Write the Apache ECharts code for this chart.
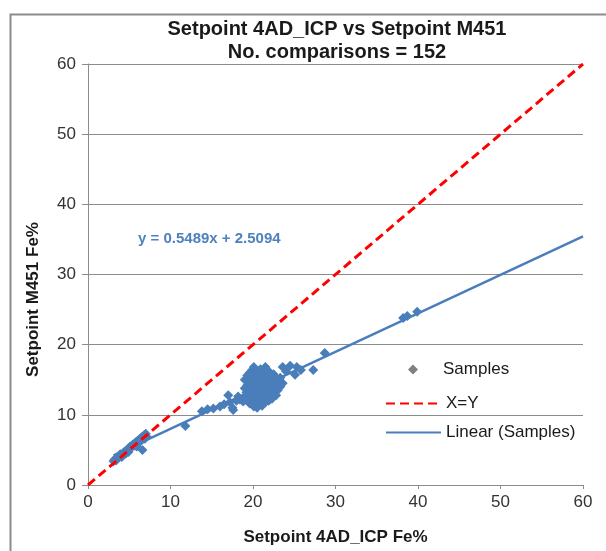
<html xmlns="http://www.w3.org/1999/xhtml">
<head>
  <meta charset="utf-8" />
  <title>Setpoint 4AD_ICP vs Setpoint M451</title>
  <script type="text/javascript" src="https://cdn.jsdelivr.net/npm/echarts@6/dist/echarts.min.js"></script>
</head>
<body style="margin: 0; background: #ffffff">
  <div id="chart" style="width: 606px; height: 551px"></div>
<script type="text/javascript">
  // samples: [4AD_ICP Fe%, M451 Fe%]
  var samples = [
    [3.1,3.4],[3.3,3.7],[3.4,3.5],[3.6,3.9],[3.8,4.1],[4.0,4.3],[4.1,4.0],[4.3,4.6],[4.5,4.8],[4.6,4.5],
    [4.8,5.0],[5.0,5.2],[5.1,5.5],[5.3,5.4],[5.5,5.8],[5.6,5.6],[5.8,6.1],[6.0,6.3],[6.1,6.0],[6.3,6.6],
    [6.5,6.8],[6.6,6.5],[6.8,7.1],[7.0,7.3],[7.1,6.9],[6.6,5.0],[5.9,5.5],[4.9,4.7],[3.9,4.4],[6.9,6.6],
    [3.2,3.6],[3.5,3.8],[3.7,4.0],[4.2,4.4],[4.4,4.7],[4.7,4.9],[5.2,5.3],[5.4,5.7],[5.7,5.9],[6.2,6.4],
    [6.4,6.3],[6.7,6.9],
    [11.8,8.4],[13.8,10.5],[14.5,10.8],[15.2,10.9],[16.0,11.2],[17.2,11.8],[17.6,10.7],[18.0,12.0],
    [18.4,12.2],[18.8,11.9],[17.0,12.8],[17.5,11.0],[18.2,12.6],[16.5,11.5],
    [19.0,12.5],[19.0,13.8],[19.0,15.0],[19.3,12.0],[19.3,14.2],[19.3,15.6],
    [19.6,11.6],[19.6,13.0],[19.6,14.6],[19.6,16.0],[19.9,12.2],[19.9,13.5],[19.9,14.9],[19.9,16.4],
    [20.1,11.2],[20.1,12.8],[20.1,14.0],[20.1,15.2],[20.1,16.8],[20.3,11.8],[20.3,13.3],[20.3,14.5],[20.3,15.8],
    [20.5,11.0],[20.5,12.4],[20.5,13.7],[20.5,15.0],[20.5,16.2],[20.7,11.5],[20.7,12.9],[20.7,14.2],[20.7,15.5],
    [20.9,12.0],[20.9,13.2],[20.9,14.6],[20.9,16.5],[21.1,11.3],[21.1,12.6],[21.1,13.9],[21.1,15.1],
    [21.3,12.2],[21.3,13.5],[21.3,14.8],[21.3,16.0],[21.5,11.8],[21.5,13.0],[21.5,14.3],[21.5,15.6],[21.5,16.8],
    [21.7,12.5],[21.7,13.8],[21.7,15.0],[21.9,12.0],[21.9,13.3],[21.9,14.6],[21.9,16.2],
    [22.1,12.8],[22.1,14.0],[22.1,15.4],[22.3,12.3],[22.3,13.6],[22.3,14.9],[22.5,13.0],[22.5,14.3],[22.5,15.8],
    [22.8,12.8],[22.8,13.9],[22.8,15.2],[23.0,13.5],[23.0,14.6],[23.3,14.0],[23.3,15.3],[23.6,16.8],[23.6,14.5],
    [19.2,13.2],[19.8,14.4],[20.0,15.6],[20.4,12.2],[20.6,14.8],[20.8,13.6],[21.0,16.0],[21.2,14.4],
    [21.4,12.8],[21.6,15.2],[21.8,14.0],[22.0,13.0],
    [24.0,16.2],[24.5,17.0],[25.1,15.7],[25.3,16.8],[25.8,16.4],[27.3,16.4],[28.7,18.8],
    [38.2,23.8],[38.7,24.1],[39.9,24.7]
  ];
  var identityLine = [[0,0],[60,60]];
  // trendline as printed on the chart: y = 0.5489x + 2.5094
  var trendSlope = 0.5489;
  var trendIntercept = 2.5094;
  var trendX = [3.1, 60];

  var font = "'Liberation Sans', Arial, sans-serif";
  var trendLine = trendX.map(function(x){ return [x, trendSlope*x + trendIntercept]; });

  var myChart = echarts.init(document.getElementById('chart'));
  var option = {
    backgroundColor: '#ffffff',
    animation: false,
    textStyle: { fontFamily: font },
    title: [
      { text: 'Setpoint 4AD_ICP vs Setpoint M451', left: 332, top: 14, textAlign: 'center',
        textStyle: { fontSize: 20, fontWeight: 'bold', color: '#1a1a1a', fontFamily: font } },
      { text: 'No. comparisons = 152', left: 332, top: 37, textAlign: 'center',
        textStyle: { fontSize: 20, fontWeight: 'bold', color: '#1a1a1a', fontFamily: font } }
    ],
    graphic: [
      { type: 'rect', left: 8, top: 12, shape: { width: 640, height: 600 },
        style: { fill: 'none', stroke: '#8c8c8c', lineWidth: 2 }, silent: true },
      { type: 'text', left: 138, top: 231,
        style: { text: 'y = 0.5489x + 2.5094', fill: '#4f81bd', font: 'bold 15px ' + font } }
    ],
    grid: { left: 88, right: 23, top: 64, bottom: 66, outerBoundsMode: 'none' },
    legend: [
      {
        orient: 'vertical', left: 403, top: 356,
        itemWidth: 10, itemHeight: 10,
        textStyle: { fontSize: 17, color: '#1a1a1a', fontFamily: font, padding: [0, 0, 0, 20] },
        data: [ { name: 'Samples', icon: 'diamond', itemStyle: { color: '#808080' } } ]
      },
      {
        orient: 'vertical', left: 380, top: 390,
        itemWidth: 55, itemHeight: 10, itemGap: 12,
        textStyle: { fontSize: 17, color: '#1a1a1a', fontFamily: font },
        data: [
          { name: 'X=Y', itemStyle: { opacity: 0 } },
          { name: 'Linear (Samples)', itemStyle: { opacity: 0 } }
        ]
      }
    ],
    xAxis: {
      type: 'value', min: 0, max: 60, interval: 10,
      name: 'Setpoint 4AD_ICP Fe%', nameLocation: 'middle', nameGap: 44,
      nameTextStyle: { fontSize: 17, fontWeight: 'bold', color: '#1a1a1a', fontFamily: font },
      axisLine: { lineStyle: { color: '#8c8c8c' } },
      axisTick: { length: 4, lineStyle: { color: '#8c8c8c' } },
      axisLabel: { fontSize: 17, color: '#333', margin: 9 },
      splitLine: { show: false }
    },
    yAxis: {
      type: 'value', min: 0, max: 60, interval: 10,
      name: 'Setpoint M451 Fe%', nameLocation: 'middle', nameGap: 46,
      nameTextStyle: { fontSize: 17, fontWeight: 'bold', color: '#1a1a1a', fontFamily: font,
        padding: [0, 50, 0, 0] },
      axisLine: { show: true, lineStyle: { color: '#8c8c8c' } },
      axisTick: { show: true, length: 6, lineStyle: { color: '#8c8c8c' } },
      axisLabel: { fontSize: 17, color: '#333', margin: 12 },
      splitLine: { lineStyle: { color: '#8c8c8c', width: 1 } }
    },
    series: [
      {
        name: 'Samples', type: 'scatter', data: samples, symbol: 'diamond', symbolSize: 10, z: 3,
        itemStyle: { color: '#4a7ebb', opacity: 1 }
      },
      {
        name: 'Linear (Samples)', type: 'line', data: trendLine, symbol: 'none', z: 4,
        lineStyle: { color: '#4a7ebb', width: 2.5 },
        itemStyle: { color: '#4a7ebb' }
      },
      {
        name: 'X=Y', type: 'line', data: identityLine, symbol: 'none', z: 5,
        lineStyle: { color: '#ff0000', width: 3, type: [9, 5] },
        itemStyle: { color: '#ff0000' }
      }
    ]
  };
  myChart.setOption(option);
</script>
</body>
</html>
